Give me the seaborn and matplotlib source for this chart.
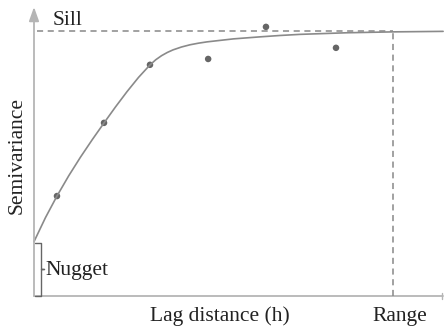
import matplotlib
matplotlib.use("Agg")
import matplotlib.pyplot as plt
import seaborn as sns
import pandas as pd

# Observed semivariance points (lag distance h, semivariance)
lag_obs = [0.64, 1.95, 3.23, 4.85, 6.46, 8.41]
gamma_obs = [3.77, 6.53, 8.72, 8.94, 10.15, 9.36]

# Model curve
lag_curve = [0.0, 0.320, 0.641, 0.968, 1.295, 1.623, 1.950, 2.270, 2.591, 2.911, 3.231,
             3.391, 3.552, 3.712, 3.872, 4.109, 4.345, 4.582, 4.819, 5.557, 6.295,
             6.852, 7.409, 8.705, 10.0, 11.393]
gamma_curve = [2.05, 2.958, 3.774, 4.536, 5.238, 5.898, 6.528, 7.132, 7.709, 8.245, 8.717,
               8.911, 9.064, 9.185, 9.283, 9.392, 9.475, 9.536, 9.585, 9.698, 9.774,
               9.826, 9.868, 9.928, 9.962, 9.981]

nugget = 2.0
sill = 10.0
range_h = 10.0

labels = {"sill": "Sill", "nugget": "Nugget", "y": "Semivariance",
          "x": "Lag distance (h)", "range": "Range"}

sns.set_theme(style="white")
plt.rcParams['font.family'] = ['Liberation Serif', 'DejaVu Serif']

fig = plt.figure(figsize=(4.44, 3.27), dpi=100)
ax = fig.add_axes([34/444, 31/327, 409/444, 289/327])
ax.set_xlim(0, 11.39)
ax.set_ylim(0, 10.9)
for s in ax.spines.values():
    s.set_visible(False)
ax.set_xticks([])
ax.set_yticks([])

axis_col = "#b5b5b5"
# axes lines
ax.annotate("", xy=(0, 1.0), xytext=(0, 0), xycoords="axes fraction",
            arrowprops=dict(arrowstyle="-|>,head_length=0.7,head_width=0.25", color=axis_col, lw=1.3,
                            shrinkA=0, shrinkB=0))
ax.plot([0, 1], [0, 0], transform=ax.transAxes, color=axis_col, lw=1.3, clip_on=False)
ax.plot([0.998, 0.998], [-0.012, 0.012], transform=ax.transAxes, color=axis_col, lw=1.0, clip_on=False)

# sill and range dashed lines
ax.plot([0.08, range_h], [sill, sill], color="#888888", lw=1.1, ls=(0, (4, 3)), clip_on=False)
ax.plot([range_h, range_h], [0, sill], color="#888888", lw=1.1, ls=(0, (4, 3)), clip_on=False)

df_c = pd.DataFrame({"h": lag_curve, "g": gamma_curve})
sns.lineplot(data=df_c, x="h", y="g", ax=ax, color="#8a8a8a", lw=1.2, sort=False, clip_on=False)

df_o = pd.DataFrame({"h": lag_obs, "g": gamma_obs})
sns.scatterplot(data=df_o, x="h", y="g", ax=ax, color="#666666", s=22, edgecolor="none", clip_on=False)
ax.set_xlabel("")
ax.set_ylabel("")

# nugget brace
bx = [0.03, 0.19, 0.19, 0.27, 0.19, 0.19, 0.03]
by = [nugget, nugget, 1.0, 1.0, 1.0, 0.0, 0.0]
ax.plot(bx, by, color="#666666", lw=1.0, clip_on=False)

fs = 15.5
tc = "#222222"
ax.text(0.33, 0.97, labels["nugget"], fontsize=fs, color=tc, ha="left", va="center")
ax.text(0.53, 10.4, labels["sill"], fontsize=fs, color=tc, ha="left", va="center")
fig.text(17/444, 1 - 155/327, labels["y"], fontsize=fs, color=tc, rotation=90, ha="center", va="center")
fig.text(220/444, 1 - 321/327, labels["x"], fontsize=fs, color=tc, ha="center", va="baseline")
fig.text(400/444, 1 - 321/327, labels["range"], fontsize=fs, color=tc, ha="center", va="baseline")

fig.savefig("out.png", dpi=100)
